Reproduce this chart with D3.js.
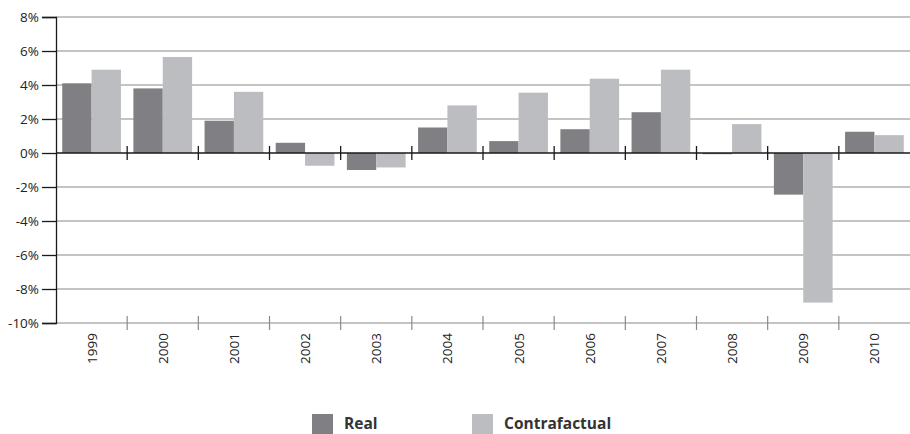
<!DOCTYPE html>
<html>
<head>
<meta charset="utf-8">
<script src="https://cdn.jsdelivr.net/npm/d3@7/dist/d3.min.js"></script>
<style>
  html, body { margin: 0; padding: 0; background: #fff; }
  svg { display: block; }
  text { font-family: "Open Sans", "Noto Sans", sans-serif; }
</style>
</head>
<body>
<svg id="chart" width="910" height="434"></svg>
<script>
// Annual growth, real vs. counterfactual (percent)
const years = ["1999","2000","2001","2002","2003","2004","2005","2006","2007","2008","2009","2010"];
const real = [4.1, 3.8, 1.9, 0.6, -1.0, 1.5, 0.7, 1.4, 2.4, -0.07, -2.45, 1.25];
const contrafactual = [4.9, 5.65, 3.6, -0.75, -0.85, 2.8, 3.55, 4.37, 4.9, 1.7, -8.8, 1.05];
const yTicks = [8, 6, 4, 2, 0, -2, -4, -6, -8, -10];
const seriesNames = ["Real", "Contrafactual"];
const colors = ["#808084", "#bcbdc1"];

const svg = d3.select("#chart");
const margin = { left: 56, right: 0, top: 17, bottom: 111 };
const W = 910, H = 434;
const x0 = margin.left, x1 = W - margin.right;
const yTop = margin.top, yBot = H - margin.bottom;

const x = d3.scaleBand().domain(years).range([x0, x1]).paddingInner(0).paddingOuter(0);
const xs = d3.scaleBand().domain(seriesNames).range([0, x.bandwidth()]).paddingInner(0).paddingOuter(0.212);
const y = d3.scaleLinear().domain([-10, 8]).range([yBot, yTop]);

// horizontal gridlines
svg.append("g").selectAll("line").data(yTicks.filter(t => t !== 0 && t !== -10)).join("line")
  .attr("x1", x0).attr("x2", x1)
  .attr("y1", d => y(d)).attr("y2", d => y(d))
  .attr("stroke", "#8a8a8a").attr("stroke-width", 1.2);

// bottom axis line with category ticks
const bottom = svg.append("g");
bottom.append("line").attr("x1", x0).attr("x2", x1).attr("y1", y(-10)).attr("y2", y(-10))
  .attr("stroke", "#8a8a8a").attr("stroke-width", 1.2);
bottom.selectAll("line.tk").data(years.slice(1)).join("line").attr("class", "tk")
  .attr("x1", d => x(d)).attr("x2", d => x(d))
  .attr("y1", y(-10) - 7).attr("y2", y(-10) + 7)
  .attr("stroke", "#8a8a8a").attr("stroke-width", 1.2);

// bars
const groups = svg.append("g").selectAll("g").data(years).join("g")
  .attr("transform", d => `translate(${x(d)},0)`);
[real, contrafactual].forEach((vals, si) => {
  groups.append("rect")
    .attr("x", xs(seriesNames[si]))
    .attr("width", xs.bandwidth())
    .attr("y", (d, i) => y(Math.max(0, vals[i])))
    .attr("height", (d, i) => Math.abs(y(vals[i]) - y(0)))
    .attr("fill", colors[si]);
});

// zero line with category ticks
const zero = svg.append("g");
zero.append("line").attr("x1", x0).attr("x2", x1).attr("y1", y(0)).attr("y2", y(0))
  .attr("stroke", "#1a1a1a").attr("stroke-width", 1.3);
zero.selectAll("line.tk").data(years.slice(1)).join("line").attr("class", "tk")
  .attr("x1", d => x(d)).attr("x2", d => x(d))
  .attr("y1", y(0) - 7).attr("y2", y(0) + 7)
  .attr("stroke", "#1a1a1a").attr("stroke-width", 1.3);

// left axis
const yAxis = d3.axisLeft(y).tickValues(yTicks).tickSize(14).tickPadding(3)
  .tickFormat(d => d + "%");
const ga = svg.append("g").attr("transform", `translate(${x0},0)`).call(yAxis);
ga.select(".domain").attr("stroke", "#1a1a1a").attr("stroke-width", 1.3);
ga.selectAll(".tick line").attr("stroke", "#1a1a1a").attr("stroke-width", 1.3);
ga.selectAll(".tick text").attr("font-size", 13.5).attr("fill", "#222")
  .attr("font-family", "'Open Sans', sans-serif");

// year labels
svg.append("g").selectAll("text").data(years).join("text")
  .attr("transform", d => `translate(${x(d) + x.bandwidth() / 2 + 5},${y(-10) + 10}) rotate(-90)`)
  .attr("text-anchor", "end")
  .attr("font-size", 13.5).attr("fill", "#222")
  .text(d => d);

// legend
const legendX = [312, 472];
const leg = svg.append("g").selectAll("g").data(seriesNames).join("g")
  .attr("transform", (d, i) => `translate(${legendX[i]},414)`);
leg.append("rect").attr("width", 21).attr("height", 20).attr("fill", (d, i) => colors[i]);
leg.append("text").attr("x", 32).attr("y", 14.5)
  .attr("font-size", 15.5).attr("font-weight", "bold").attr("fill", "#333")
  .text(d => d);
</script>
</body>
</html>
